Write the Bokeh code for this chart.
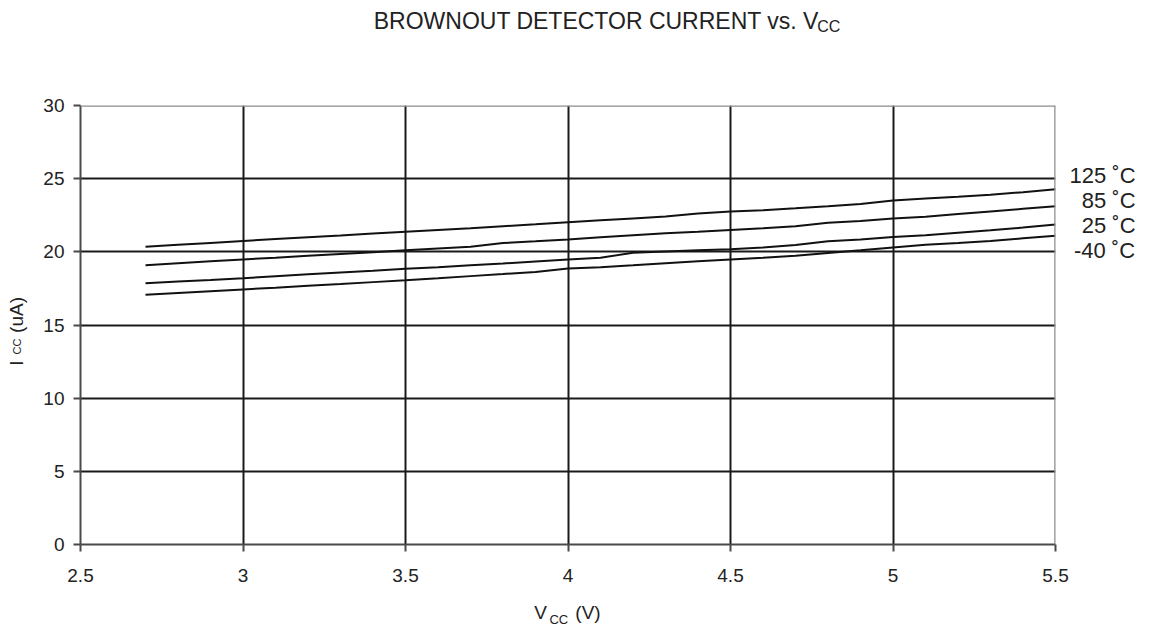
import math
from bokeh.plotting import figure
from bokeh.models import Range1d, FixedTicker, NumeralTickFormatter, Span, LinearAxis
from bokeh.embed import file_html
from bokeh.resources import INLINE

# ---------------- data ----------------
vcc = [2.7, 2.8, 2.9, 3.0, 3.1, 3.2, 3.3, 3.4, 3.5, 3.6, 3.7, 3.8, 3.9, 4.0,
       4.1, 4.2, 4.3, 4.4, 4.5, 4.6, 4.7, 4.8, 4.9, 5.0, 5.1, 5.2, 5.3, 5.4, 5.5]

icc_125 = [20.35, 20.48, 20.61, 20.74, 20.87, 21.00, 21.12, 21.25, 21.38, 21.50,
           21.62, 21.75, 21.88, 22.02, 22.15, 22.28, 22.41, 22.62, 22.76, 22.85,
           22.98, 23.12, 23.27, 23.51, 23.65, 23.77, 23.90, 24.08, 24.27]
icc_85 = [19.08, 19.22, 19.35, 19.48, 19.60, 19.73, 19.85, 19.97, 20.10, 20.23,
          20.35, 20.60, 20.72, 20.85, 20.99, 21.13, 21.27, 21.38, 21.50, 21.62,
          21.75, 21.98, 22.10, 22.28, 22.39, 22.58, 22.76, 22.94, 23.12]
icc_25 = [17.85, 17.97, 18.08, 18.20, 18.33, 18.46, 18.59, 18.71, 18.84, 18.95,
          19.08, 19.20, 19.34, 19.48, 19.59, 19.94, 20.02, 20.10, 20.17, 20.30,
          20.46, 20.72, 20.85, 21.01, 21.13, 21.30, 21.47, 21.66, 21.86]
icc_m40 = [17.07, 17.19, 17.31, 17.43, 17.55, 17.68, 17.80, 17.93, 18.05, 18.19,
           18.34, 18.48, 18.63, 18.86, 18.95, 19.08, 19.22, 19.35, 19.48, 19.60,
           19.73, 19.92, 20.10, 20.30, 20.48, 20.60, 20.74, 20.92, 21.10]

series = [icc_125, icc_85, icc_25, icc_m40]
series_labels = ["125 \u02daC", "\u200785 \u02daC", "\u200725 \u02daC", "\u2009-40 \u02daC"]

x_ticks = [2.5, 3.0, 3.5, 4.0, 4.5, 5.0, 5.5]
y_ticks = [0, 5, 10, 15, 20, 25, 30]
x_grid = [3.0, 3.5, 4.0, 4.5, 5.0]
y_grid = [5, 10, 15, 20, 25]

title_main = "BROWNOUT DETECTOR CURRENT vs. V"
title_sub = "CC"
xlabel_parts = ["V", "(V)"]
xlabel_sub = "CC"
ylabel_parts = ["I", "(uA)"]
ylabel_sub = "CC"

FONT = "Liberation Sans"
INK = "#222222"
W, H = 1160, 632
FL, FR, FT, FB = 80, 1055, 106, 544   # frame edges on the page (px)

# page-pixel -> data helpers (used only to place text along the axes)
def px(xp):
    return 2.5 + (xp - FL) / (FR - FL) * 3.0

def py(yp):
    return (FB - yp) / (FB - FT) * 30.0

p = figure(width=W, height=H, output_backend="svg", toolbar_location=None,
           x_range=Range1d(2.5, 5.5), y_range=Range1d(0, 30),
           min_border_left=FL, min_border_right=W - FR,
           min_border_top=FT - 1, min_border_bottom=H - FB)
p.title.visible = False
p.outline_line_color = None

for ax in (p.xaxis, p.yaxis):
    ax.axis_line_color = "#4a4a4a"
    ax.axis_line_width = 2
    ax.major_tick_line_color = "#4a4a4a"
    ax.major_tick_line_width = 2
    ax.major_tick_in = 0
    ax.major_tick_out = 7
    ax.minor_tick_line_color = None
    ax.minor_tick_out = 0
    ax.major_label_text_font = FONT
    ax.major_label_text_font_size = "19px"
    ax.major_label_text_color = INK
p.xaxis.major_label_standoff = 17
p.yaxis.major_label_standoff = 9

p.xaxis.ticker = FixedTicker(ticks=x_ticks)
p.yaxis.ticker = FixedTicker(ticks=y_ticks)
p.xaxis.formatter = NumeralTickFormatter(format="0.[0]")
p.yaxis.formatter = NumeralTickFormatter(format="0")

p.xgrid.ticker = FixedTicker(ticks=x_grid)
p.ygrid.ticker = FixedTicker(ticks=y_grid)
for g in (p.xgrid, p.ygrid):
    g.grid_line_color = "#1a1a1a"
    g.grid_line_width = 2

p.add_layout(Span(location=30, dimension="width", line_color="#8c8c8c", line_width=2.5))
p.add_layout(Span(location=5.5, dimension="height", line_color="#8c8c8c", line_width=2.5))

for s in series:
    p.line(vcc, s, line_color="#111111", line_width=2)


def text_axis(ticks, texts, size, standoff, orientation="horizontal"):
    ax = LinearAxis(ticker=FixedTicker(ticks=ticks),
                    major_label_overrides={t: s for t, s in zip(ticks, texts)})
    ax.axis_line_color = None
    ax.major_tick_line_color = None
    ax.minor_tick_line_color = None
    ax.major_tick_in = 0
    ax.major_tick_out = 0
    ax.minor_tick_in = 0
    ax.minor_tick_out = 0
    ax.major_label_standoff = standoff
    ax.major_label_text_font = FONT
    ax.major_label_text_font_size = size
    ax.major_label_text_color = INK
    ax.major_label_orientation = orientation
    return ax


# right-hand series labels
series_label_pos = [py(176), py(200.5), py(226), py(251)]
p.add_layout(text_axis(series_label_pos, series_labels, "22px", 14), "right")

# title: subscript (inner) then main text (outer)
p.add_layout(text_axis([px(828.3)], [title_sub], "16px", 71), "above")
p.add_layout(text_axis([px(596)], [title_main], "23px", -19), "above")

# x-axis label: V, (V) then subscript CC
p.add_layout(text_axis([px(540), px(587.5)], xlabel_parts, "19px", 17), "below")
p.add_layout(text_axis([px(558.3)], [xlabel_sub], "13px", -14), "below")

# y-axis label: subscript CC (inner) then I, (uA)
p.add_layout(text_axis([py(346.5)], [ylabel_sub], "11px", 17, "parallel"), "left")
p.add_layout(text_axis([py(363), py(315)], ylabel_parts, "19px", -19, "parallel"), "left")

open("out.html", "w").write(file_html(p, INLINE))
